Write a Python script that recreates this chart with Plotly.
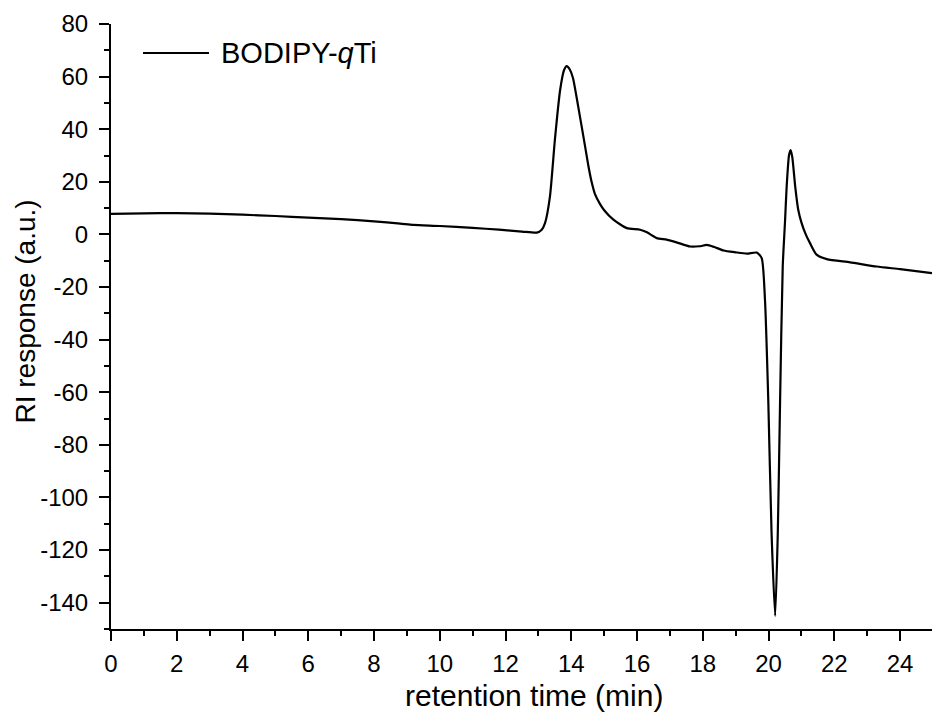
import plotly.graph_objects as go

# retention time (min) and RI response (a.u.)
time_min = [0, 1, 2, 3, 4, 5, 6, 7, 8, 8.8, 9.2, 10, 11, 11.8, 12.5, 12.95,
            13.1, 13.2, 13.35, 13.5, 13.66, 13.78, 13.86, 13.95, 14.05, 14.21,
            14.42, 14.52, 14.62, 14.72, 14.87, 15.0, 15.28, 15.69, 16.09, 16.3,
            16.6, 16.9, 17.2, 17.61, 17.9, 18.12, 18.35, 18.63, 19.0, 19.34,
            19.64, 19.79, 19.89, 19.99, 20.09, 20.2, 20.28, 20.35, 20.43, 20.5,
            20.55, 20.62, 20.67, 20.72, 20.81, 20.9, 21.0, 21.13, 21.26, 21.46,
            21.77, 22.48, 23.29, 24.0, 24.97]
ri_response = [7.8, 8.0, 8.1, 7.9, 7.5, 7.0, 6.4, 5.8, 5.0, 4.1, 3.6, 3.2, 2.5,
               1.8, 1.1, 0.7, 1.8, 4.3, 14.4, 35.9, 54.9, 62.5, 64.0, 62.8, 59.5,
               48.6, 33.4, 26.0, 19.8, 15.3, 11.6, 9.2, 5.6, 2.4, 1.8, 0.8, -1.4,
               -2.0, -3.0, -4.6, -4.5, -4.0, -4.8, -6.1, -6.8, -7.3, -6.9, -9.0,
               -24.8, -62.8, -113.4, -145.0, -113.4, -62.8, -12.2, 5.0, 18.2,
               30.0, 32.1, 29.5, 18.2, 9.5, 4.5, 0.0, -3.3, -7.7, -9.4, -10.6,
               -12.2, -13.2, -14.7]

series_name = "BODIPY-<i>q</i>Ti"
x_title = "retention time (min)"
y_title = "RI response (a.u.)"

x_tickvals = [0, 2, 4, 6, 8, 10, 12, 14, 16, 18, 20, 22, 24]
x_ticktext = ["0", "2", "4", "6", "8", "10", "12", "14", "16", "18", "20", "22", "24"]
y_tickvals = [80, 60, 40, 20, 0, -20, -40, -60, -80, -100, -120, -140]
y_ticktext = ["80", "60", "40", "20", "0", "-20", "-40", "-60", "-80", "-100", "-120", "-140"]

W, H = 932, 714
L, R, T, B = 111, 0, 24, 85
PW, PH = W - L - R, H - T - B


def px(xp):
    return (xp - L) / PW


def py(yp):
    return (H - B - yp) / PH


FONT = "Liberation Sans, Arial, sans-serif"

fig = go.Figure()
fig.add_trace(go.Scatter(
    x=time_min, y=ri_response, mode="lines",
    line=dict(color="black", width=2.2, shape="spline", smoothing=0.6),
    name=series_name, showlegend=False, hoverinfo="x+y",
))

axis_common = dict(
    showline=True, linecolor="black", linewidth=2, mirror=False,
    showgrid=False, zeroline=False,
    ticks="outside", ticklen=10, tickwidth=2, tickcolor="black",
    tickfont=dict(family=FONT, size=24, color="black"),
)

fig.update_xaxes(
    range=[0, 24.97], tickvals=x_tickvals, ticktext=x_ticktext,
    ticklabelstandoff=2,
    minor=dict(dtick=1, ticks="outside", ticklen=5, tickwidth=2, tickcolor="black"),
    **axis_common,
)
fig.update_yaxes(
    range=[-150, 80], tickvals=y_tickvals, ticktext=y_ticktext,
    ticklabelstandoff=6,
    minor=dict(dtick=10, tick0=0, ticks="outside", ticklen=5, tickwidth=2, tickcolor="black"),
    **axis_common,
)

annotations = [
    dict(text=x_title, x=px(534), y=py(695), xref="paper", yref="paper",
         xanchor="center", yanchor="middle", showarrow=False,
         font=dict(family=FONT, size=30, color="black")),
    dict(text=y_title, x=px(25), y=py(311.5), xref="paper", yref="paper",
         xanchor="center", yanchor="middle", showarrow=False, textangle=-90,
         font=dict(family=FONT, size=28, color="black")),
    dict(text=series_name, x=px(219), y=py(52.5), xref="paper", yref="paper",
         xanchor="left", yanchor="middle", showarrow=False,
         font=dict(family=FONT, size=29, color="black")),
]

shapes = [
    dict(type="line", xref="paper", yref="paper",
         x0=px(143), x1=px(209), y0=py(53), y1=py(53),
         line=dict(color="black", width=2)),
]

fig.update_layout(
    width=W, height=H, autosize=False,
    margin=dict(l=L, r=R, t=T, b=B, pad=0),
    paper_bgcolor="white", plot_bgcolor="white",
    annotations=annotations, shapes=shapes,
    showlegend=False,
)

fig.write_html("out.html", config={"displayModeBar": False})

# remove the browser's default page margin so the figure sits at (0, 0)
with open("out.html", "r", encoding="utf-8") as f:
    html = f.read()
html = html.replace("<head>", "<head><style>html,body{margin:0;padding:0;overflow:hidden;}</style>", 1)
with open("out.html", "w", encoding="utf-8") as f:
    f.write(html)
